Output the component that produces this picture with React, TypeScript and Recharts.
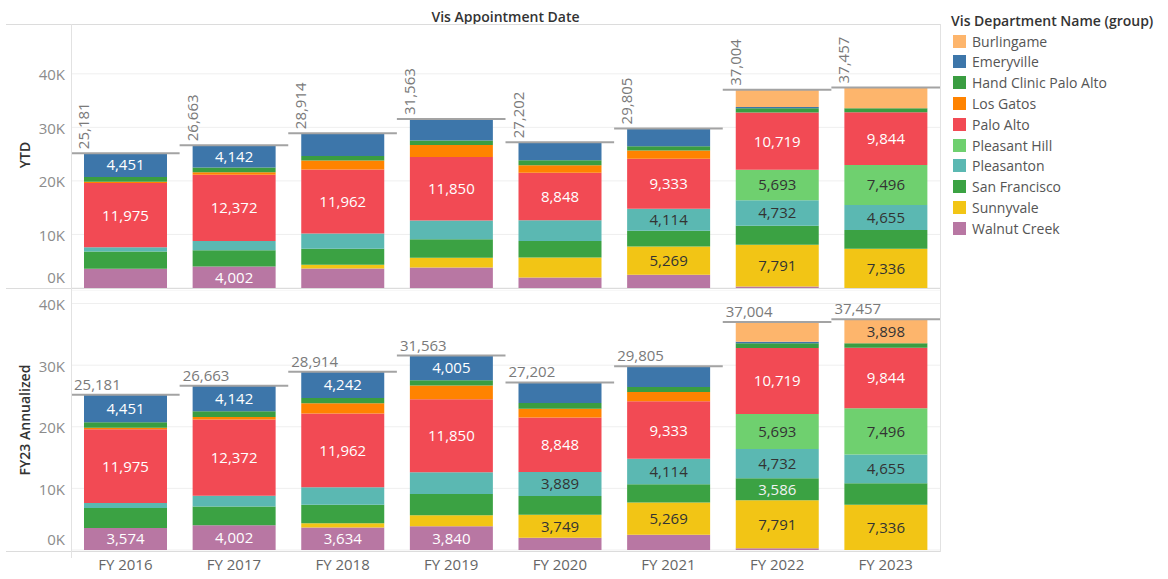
import React from "react";
import { Bar, CartesianGrid, ComposedChart, LabelList, Line, XAxis, YAxis } from "recharts";

const years = ["FY 2016", "FY 2017", "FY 2018", "FY 2019", "FY 2020", "FY 2021", "FY 2022", "FY 2023"];

// legend order (top of stack first)
const departments = [
  "Burlingame",
  "Emeryville",
  "Hand Clinic Palo Alto",
  "Los Gatos",
  "Palo Alto",
  "Pleasant Hill",
  "Pleasanton",
  "San Francisco",
  "Sunnyvale",
  "Walnut Creek",
];

const burlingame = [0, 0, 0, 0, 0, 0, 3187, 3898];
const emeryville = [4451, 4142, 4242, 4005, 3335, 3332, 270, 0];
const handClinic = [906, 925, 859, 867, 929, 819, 756, 723];
const losGatos = [230, 435, 1665, 2222, 1422, 1530, 0, 0];
const paloAlto = [11975, 12372, 11962, 11850, 8848, 9333, 10719, 9844];
const pleasantHill = [0, 0, 0, 0, 0, 0, 5693, 7496];
const pleasanton = [800, 1741, 2846, 3522, 3889, 4114, 4732, 4655];
const sanFrancisco = [3245, 3046, 3008, 3469, 3062, 2950, 3586, 3505];
const sunnyvale = [0, 0, 698, 1788, 3749, 5269, 7791, 7336];
const walnutCreek = [3574, 4002, 3634, 3840, 1968, 2458, 270, 0];
const totals = [25181, 26663, 28914, 31563, 27202, 29805, 37004, 37457];

// which segments carry a value label, per year
const ytdLabelled = [
  ["Emeryville", "Palo Alto"],
  ["Emeryville", "Palo Alto", "Walnut Creek"],
  ["Palo Alto"],
  ["Palo Alto"],
  ["Palo Alto"],
  ["Palo Alto", "Pleasanton", "Sunnyvale"],
  ["Palo Alto", "Pleasant Hill", "Pleasanton", "Sunnyvale"],
  ["Palo Alto", "Pleasant Hill", "Pleasanton", "Sunnyvale"],
];
const annualLabelled = [
  ["Emeryville", "Palo Alto", "Walnut Creek"],
  ["Emeryville", "Palo Alto", "Walnut Creek"],
  ["Emeryville", "Palo Alto", "Walnut Creek"],
  ["Emeryville", "Palo Alto", "Walnut Creek"],
  ["Palo Alto", "Pleasanton", "Sunnyvale"],
  ["Palo Alto", "Pleasanton", "Sunnyvale"],
  ["Palo Alto", "Pleasant Hill", "Pleasanton", "San Francisco", "Sunnyvale"],
  ["Burlingame", "Palo Alto", "Pleasant Hill", "Pleasanton", "Sunnyvale"],
];

const yTicks = [0, 10000, 20000, 30000, 40000];

const values: Record<string, number[]> = {
  Burlingame: burlingame,
  Emeryville: emeryville,
  "Hand Clinic Palo Alto": handClinic,
  "Los Gatos": losGatos,
  "Palo Alto": paloAlto,
  "Pleasant Hill": pleasantHill,
  Pleasanton: pleasanton,
  "San Francisco": sanFrancisco,
  Sunnyvale: sunnyvale,
  "Walnut Creek": walnutCreek,
};

const COLORS: Record<string, string> = {
  Burlingame: "#FDB56C",
  Emeryville: "#3D76AA",
  "Hand Clinic Palo Alto": "#3A9D41",
  "Los Gatos": "#FF8300",
  "Palo Alto": "#F24A54",
  "Pleasant Hill": "#6FD06F",
  Pleasanton: "#5BB8B2",
  "San Francisco": "#3BA243",
  Sunnyvale: "#F2C515",
  "Walnut Creek": "#B877A3",
};

const LABEL_INK: Record<string, string> = {
  Burlingame: "#333",
  Emeryville: "#fff",
  "Hand Clinic Palo Alto": "#fff",
  "Los Gatos": "#333",
  "Palo Alto": "#fff",
  "Pleasant Hill": "#333",
  Pleasanton: "#333",
  "San Francisco": "#f2f2f2",
  Sunnyvale: "#333",
  "Walnut Creek": "#fff",
};

const FONT = "'Open Sans', 'Noto Sans', sans-serif";
const PLOT_RIGHT = 940;
const AXIS_W = 71;
const BAND = (PLOT_RIGHT - AXIS_W) / years.length;

const rows = years.map((year, i) => {
  const row: Record<string, string | number> = { year, total: totals[i] };
  departments.forEach((d) => (row[d] = values[d][i]));
  return row;
});

const stackOrder = [...departments].reverse();
const fmt = (v: number) => v.toLocaleString("en-US");

// zero-height segments are skipped by LabelList, so find the year from the bar's band
const segmentLabel = (dept: string, labelled: string[][]) => (props: any) => {
  const { x, y, width, height, value } = props;
  const cx = Number(x) + Number(width) / 2;
  const yi = Math.floor((cx - AXIS_W) / BAND);
  if (!labelled[yi] || !labelled[yi].includes(dept)) return null;
  return (
    <text
      x={cx}
      y={Number(y) + Number(height) / 2}
      dy="0.36em"
      textAnchor="middle"
      fill={LABEL_INK[dept]}
      fontSize={15}
      fontFamily={FONT}
    >
      {fmt(Number(value))}
    </text>
  );
};

const totalMark = (rotated: boolean) => (props: any) => {
  const { cx, cy, index, payload } = props;
  const left = cx - BAND / 2;
  return (
    <g key={`total-${index}`}>
      <line x1={left} x2={left + BAND} y1={cy} y2={cy} stroke="#a3a3a3" strokeWidth={2} />
      {rotated ? (
        <text
          transform={`translate(${left + 18},${cy - 4}) rotate(-90)`}
          fill="#7a7a7a"
          fontSize={15}
          fontFamily={FONT}
        >
          {fmt(payload.total)}
        </text>
      ) : (
        <text x={left + 3} y={cy - 5} fill="#7a7a7a" fontSize={15} fontFamily={FONT}>
          {fmt(payload.total)}
        </text>
      )}
    </g>
  );
};

const YTick = (props: any) => {
  const { x, y, payload } = props;
  return (
    <text
      x={x}
      y={payload.value === 0 ? y - 10 : y + 1}
      dy="0.36em"
      textAnchor="end"
      fill="#8c8c8c"
      fontSize={15}
      fontFamily={FONT}
    >
      {`${payload.value / 1000}K`}
    </text>
  );
};

const XTick = (props: any) => {
  const { x, y, payload } = props;
  return (
    <text x={x} y={y + 20} textAnchor="middle" fill="#666" fontSize={15} fontFamily={FONT}>
      {payload.value}
    </text>
  );
};

function Panel({
  top,
  height,
  domainMax,
  labelled,
  rotated,
  showX,
}: {
  top: number;
  height: number;
  domainMax: number;
  labelled: string[][];
  rotated: boolean;
  showX: boolean;
}) {
  return (
    <div style={{ position: "absolute", left: 0, top, width: PLOT_RIGHT, height }}>
      <ComposedChart
        width={PLOT_RIGHT}
        height={height}
        data={rows}
        margin={{ top: 0, right: 0, bottom: 0, left: 0 }}
        barSize={83}
      >
        <CartesianGrid vertical={false} stroke="#efefef" />
        <XAxis
          dataKey="year"
          hide={!showX}
          height={29}
          interval={0}
          tickLine={false}
          axisLine={false}
          tickSize={0}
          tickMargin={0}
          tick={<XTick />}
        />
        <YAxis
          width={AXIS_W}
          domain={[0, domainMax]}
          ticks={yTicks}
          interval={0}
          allowDataOverflow
          axisLine={false}
          tickLine={false}
          tickSize={0}
          tickMargin={6}
          tick={<YTick />}
        />
        {stackOrder.map((d) => (
          <Bar key={d} dataKey={d} stackId="s" fill={COLORS[d]} isAnimationActive={false}>
            <LabelList dataKey={d} content={segmentLabel(d, labelled)} />
          </Bar>
        ))}
        <Line
          dataKey="total"
          stroke="none"
          dot={totalMark(rotated)}
          activeDot={false}
          isAnimationActive={false}
        />
      </ComposedChart>
    </div>
  );
}

const hLine = (top: number): React.CSSProperties => ({
  position: "absolute",
  left: 6,
  top,
  width: PLOT_RIGHT - 6,
  height: 1,
  background: "#dcdcdc",
});

const rowTitle = (centerY: number): React.CSSProperties => ({
  position: "absolute",
  left: 24,
  top: centerY,
  transform: "translate(-50%, -50%) rotate(-90deg)",
  whiteSpace: "nowrap",
  fontFamily: FONT,
  fontSize: 14,
  fontWeight: 600,
  color: "#333",
});

export default function App() {
  return (
    <div
      style={{
        position: "absolute",
        left: 0,
        top: 0,
        width: 1168,
        height: 579,
        overflow: "hidden",
        background: "#fff",
        fontFamily: FONT,
      }}
    >
      <div
        style={{
          position: "absolute",
          left: AXIS_W,
          width: PLOT_RIGHT - AXIS_W,
          top: 7,
          textAlign: "center",
          fontSize: 14,
          fontWeight: 600,
          color: "#333",
        }}
      >
        Vis Appointment Date
      </div>
      <div style={rowTitle(155)}>YTD</div>
      <div style={rowTitle(420)}>FY23 Annualized</div>

      <Panel top={24} height={264} domainMax={49300} labelled={ytdLabelled} rotated showX={false} />
      <Panel top={290} height={289} domainMax={42200} labelled={annualLabelled} rotated={false} showX />

      <div style={hLine(24)} />
      <div style={hLine(288)} />
      <div style={hLine(551)} />
      <div style={{ position: "absolute", left: AXIS_W, top: 24, width: 1, height: 534, background: "#e2e2e2" }} />
      <div style={{ position: "absolute", left: PLOT_RIGHT, top: 24, width: 1, height: 528, background: "#e2e2e2" }} />

      <div
        style={{
          position: "absolute",
          left: 951,
          top: 10,
          fontSize: 14,
          fontWeight: 600,
          color: "#333",
          whiteSpace: "nowrap",
          lineHeight: "22px",
        }}
      >
        Vis Department Name (group)
      </div>
      {departments.map((d, i) => (
        <div
          key={d}
          style={{
            position: "absolute",
            left: 953,
            top: 31 + i * 20.8,
            height: 20,
            display: "flex",
            alignItems: "center",
            whiteSpace: "nowrap",
            fontSize: 14,
            color: "#555",
          }}
        >
          <span style={{ width: 13, height: 13, background: COLORS[d], marginRight: 6, display: "inline-block" }} />
          {d}
        </div>
      ))}
    </div>
  );
}
